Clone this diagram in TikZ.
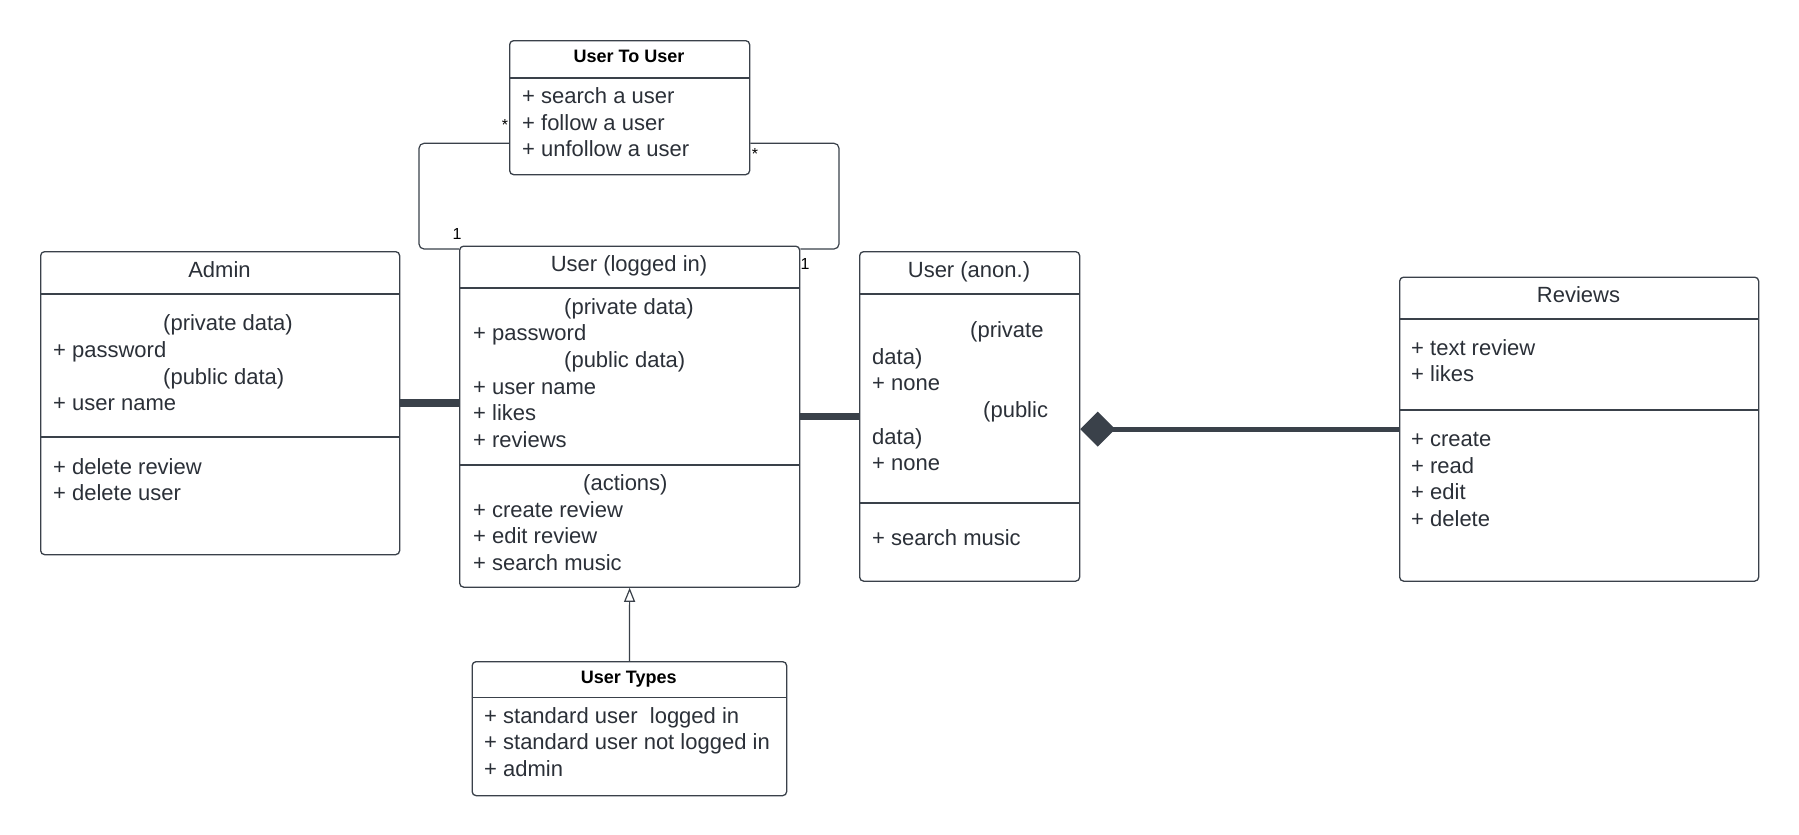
\documentclass[tikz,border=0pt]{standalone}
\usepackage{fontspec}
\setmainfont{Liberation Sans}
\usetikzlibrary{arrows.meta}
\definecolor{ln}{HTML}{3A414A}
\definecolor{tx}{HTML}{2B3038}
\tikzset{
  umlbox/.style={draw=ln, line width=1.3pt, rounded corners=4pt, inner sep=0pt, anchor=north west, fill=white},
  sep/.style={draw=ln, line width=1.2pt},
  txt/.style={anchor=base west, inner sep=0pt, text=tx, font=\fontsize{22}{26}\selectfont},
  ttl/.style={anchor=base, inner sep=0pt, text=tx, font=\fontsize{22}{26}\selectfont},
  bttl/.style={anchor=base, inner sep=0pt, text=black, font=\fontsize{18}{22}\selectfont\bfseries},
  mult/.style={anchor=base, inner sep=0pt, text=black, font=\fontsize{16}{18}\selectfont},
  thickconn/.style={draw=ln, line width=7.5pt},
  thinconn/.style={draw=ln, line width=1.2pt}
}
\begin{document}
\begin{tikzpicture}[x=1pt,y=-1pt]
\useasboundingbox[fill=white] (0,0) rectangle (1799,835);

% ---------- connectors (under boxes) ----------
\coordinate (loopL) at (419,200);
\coordinate (loopR) at (839,200);

% ---------- boxes ----------
\node[umlbox, minimum width=240pt, minimum height=134pt] (utu) at (509,40) {};
\node[umlbox, minimum width=359pt, minimum height=303pt] (admin) at (40,251) {};
\node[umlbox, minimum width=340pt, minimum height=341pt] (uli) at (459,245.5) {};
\node[umlbox, minimum width=220pt, minimum height=329.5pt] (anon) at (859,251) {};
\node[umlbox, minimum width=359pt, minimum height=304pt] (rev) at (1399,276.5) {};
\node[umlbox, minimum width=314.5pt, minimum height=134pt] (types) at (471.5,661) {};

% compartment lines
\draw[sep] (509,78) -- (749,78);
\draw[sep] (40,294) -- (399,294);
\draw[sep] (40,437) -- (399,437);
\draw[sep] (459,288) -- (799,288);
\draw[sep] (459,465) -- (799,465);
\draw[sep] (859,294) -- (1079,294);
\draw[sep] (859,503) -- (1079,503);
\draw[sep] (1399,319) -- (1758,319);
\draw[sep] (1399,410) -- (1758,410);
\draw[sep] (471.5,697.5) -- (786,697.5);

% ---------- connectors ----------
\draw[thinconn, rounded corners=5pt] ([yshift=32pt]utu.south west) -| (loopL) |- ([yshift=-3.5pt]uli.north west);
\draw[thinconn, rounded corners=5pt] ([yshift=32pt]utu.south east) -| (loopR) |- ([yshift=-3.5pt]uli.north east);
\draw[thickconn] (admin.east) -- (admin.east -| uli.west);
\draw[thickconn] (uli.east) -- (uli.east -| anon.west);
\draw[draw=ln, line width=5pt, {Diamond[length=35pt,width=35pt,fill=ln]}-] (rev.west -| anon.east) -- (rev.west);
\draw[thinconn, -{Triangle[open,length=14pt,width=11pt,line width=1.2pt]}] (types.north) -- (uli.south);

% multiplicities
\node[mult] (m1) at (505,130) {*};
\node[mult] (m2) at (755,159) {*};
\node[mult] (m3) at (457,239) {1};
\node[mult] (m4) at (805,269) {1};

% ---------- User To User ----------
\node[bttl] (utuT) at (629,62) {User To User};
\node[txt] (utu1) at (522,103) {+ search a user};
\node[txt] (utu2) at (522,130) {+ follow a user};
\node[txt] (utu3) at (522,156) {+ unfollow a user};

% ---------- Admin ----------
\node[ttl] (adT) at (219.5,277) {Admin};
\node[txt] (ad1) at (163,330) {(private data)};
\node[txt] (ad2) at (53,357) {+ password};
\node[txt] (ad3) at (163,384) {(public data)};
\node[txt] (ad4) at (53,410) {+ user name};
\node[txt] (ad5) at (53,474) {+ delete review};
\node[txt] (ad6) at (53,500) {+ delete user};

% ---------- User (logged in) ----------
\node[ttl] (uT) at (629,271) {User (logged in)};
\node[txt] (u1) at (564,314) {(private data)};
\node[txt] (u2) at (473,340) {+ password};
\node[txt] (u3) at (564,367) {(public data)};
\node[txt] (u4) at (473,394) {+ user name};
\node[txt] (u5) at (473,420) {+ likes};
\node[txt] (u6) at (473,447) {+ reviews};
\node[txt] (u7) at (583,490) {(actions)};
\node[txt] (u8) at (473,517) {+ create review};
\node[txt] (u9) at (473,543) {+ edit review};
\node[txt] (u10) at (473,570) {+ search music};

% ---------- User (anon.) ----------
\node[ttl] (aT) at (969,277) {User (anon.)};
\node[txt] (a1) at (970,337) {(private};
\node[txt] (a2) at (872,364) {data)};
\node[txt] (a3) at (872,390) {+ none};
\node[txt] (a4) at (983,417) {(public};
\node[txt] (a5) at (872,444) {data)};
\node[txt] (a6) at (872,470) {+ none};
\node[txt] (a7) at (872,545) {+ search music};

% ---------- Reviews ----------
\node[ttl] (rT) at (1578.5,302) {Reviews};
\node[txt] (r1) at (1411,355) {+ text review};
\node[txt] (r2) at (1411,381) {+ likes};
\node[txt] (r3) at (1411,446) {+ create};
\node[txt] (r4) at (1411,473) {+ read};
\node[txt] (r5) at (1411,499) {+ edit};
\node[txt] (r6) at (1411,526) {+ delete};

% ---------- User Types ----------
\node[bttl] (tT) at (628.75,683) {User Types};
\node[txt] (t1) at (484,723) {+ standard user\ \ logged in};
\node[txt] (t2) at (484,749) {+ standard user not logged in};
\node[txt] (t3) at (484,776) {+ admin};
\end{tikzpicture}
\end{document}
